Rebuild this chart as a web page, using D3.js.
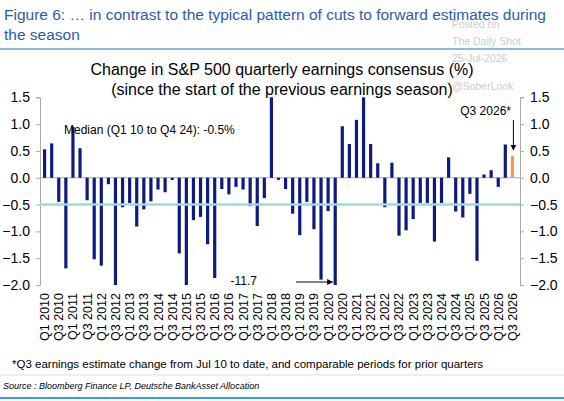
<!DOCTYPE html>
<html>
<head>
<meta charset="utf-8">
<script src="https://cdn.jsdelivr.net/npm/d3@7"></script>
<style>
  body { margin: 0; background: #fff; font-family: Arial, 'Liberation Sans', sans-serif; }
</style>
</head>
<body>
<svg id="chart" width="564" height="401"></svg>
<script>
var quarters = [];
for (var yr = 2010; yr <= 2026; yr++)
  for (var q = 1; q <= 4; q++)
    if (!(yr === 2026 && q === 4)) quarters.push("Q" + q + " " + yr);

// change in consensus (%), clipped at -2 / 1.5 on the chart
var values = [
  0.53, 0.64, -0.45, -1.69, 0.95, 0.55, -0.42, -1.52, -1.64, -0.12,
  -2.0, -0.55, -0.47, -0.91, -0.59, -0.44, -0.22, -0.27, -0.04, -1.41,
  -2.0, -0.79, -0.73, -1.24, -1.87, -0.21, -0.31, -0.17, -0.22, -0.53,
  -0.90, -0.38, 1.5, -0.04, -0.21, -0.67, -1.07, -0.45, -0.96, -1.90,
  -0.62, -2.0, 0.96, 0.63, 1.08, 1.5, 0.63, 0.27, -0.55, 0.28,
  -1.08, -0.98, -0.77, -0.47, -0.47, -1.19, -0.47, 0.38, -0.63, -0.74,
  -0.30, -1.55, 0.06, 0.14, -0.17, 0.62, 0.41
];
var yTicks = [1.5, 1.0, 0.5, 0.0, -0.5, -1.0, -1.5, -2.0];
var median = -0.5;

var svg = d3.select("#chart");

// header
svg.append("text").attr("x", 4).attr("y", 20).attr("fill", "#2a5ca8").attr("font-size", 15.5)
  .text("Figure 6: \u2026 in contrast to the typical pattern of cuts to forward estimates during");
svg.append("text").attr("x", 4).attr("y", 40).attr("fill", "#2a5ca8").attr("font-size", 15.5)
  .text("the season");
svg.append("line").attr("x1", 0).attr("x2", 564).attr("y1", 49).attr("y2", 49).attr("stroke", "#5aa8d8").attr("stroke-width", 1.5);

// watermark
[["Posted on", 28], ["The Daily Shot", 45], ["25-Jul-2026", 62], ["@SoberLook", 90]].forEach(function (w) {
  svg.append("text").attr("x", 452).attr("y", w[1]).attr("fill", "#cccccc").attr("font-size", 10.5).text(w[0]);
});

svg.append("text").attr("x", 282).attr("y", 75).attr("text-anchor", "middle").attr("font-size", 16).text("Change in S&P 500 quarterly earnings consensus (%)");
svg.append("text").attr("x", 282).attr("y", 95).attr("text-anchor", "middle").attr("font-size", 16).text("(since the start of the previous earnings season)");

var x = d3.scaleBand().domain(quarters).range([43, 514]).paddingInner(0.55);
var y = d3.scaleLinear().domain([-2, 1.5]).range([285, 97.3]);

// axes
var left = svg.append("g").attr("transform", "translate(40,0)")
  .call(d3.axisLeft(y).tickValues(yTicks).tickFormat(d3.format(".1f")).tickSize(4));
var right = svg.append("g").attr("transform", "translate(520,0)")
  .call(d3.axisRight(y).tickValues(yTicks).tickFormat(d3.format(".1f")).tickSize(4));
[left, right].forEach(function (g) {
  g.selectAll("path, line").attr("stroke", "#aaa");
  g.selectAll("text").attr("font-size", 14).attr("fill", "#000").attr("font-family", "Arial, 'Liberation Sans', sans-serif");
});
left.selectAll("text").attr("x", -10);
right.selectAll("text").attr("x", 10);

svg.append("line").attr("x1", 40).attr("x2", 520).attr("y1", y(0)).attr("y2", y(0)).attr("stroke", "#aaa");

svg.selectAll("rect.bar").data(values).join("rect").attr("class", "bar")
  .attr("x", function (d, i) { return x(quarters[i]); })
  .attr("width", x.bandwidth())
  .attr("y", function (d) { return y(Math.max(0, d)); })
  .attr("height", function (d) { return Math.abs(y(d) - y(0)); })
  .attr("fill", function (d, i) { return i === values.length - 1 ? "#f39a4e" : "#0d1a7e"; });

svg.append("line").attr("x1", 40).attr("x2", 520).attr("y1", y(median)).attr("y2", y(median))
  .attr("stroke", "#9fd9e0").attr("stroke-width", 2.5);

svg.append("text").attr("x", 64).attr("y", 134).attr("font-size", 12).text("Median (Q1 10 to Q4 24): -0.5%");

// annotations
svg.append("defs").append("marker").attr("id", "ah").attr("viewBox", "0 0 10 10").attr("refX", 9).attr("refY", 5)
  .attr("markerWidth", 6).attr("markerHeight", 6).attr("orient", "auto")
  .append("path").attr("d", "M0,0L10,5L0,10z").attr("fill", "#000");
var q20 = x("Q2 2020");
svg.append("text").attr("x", 257).attr("y", 285).attr("text-anchor", "end").attr("font-size", 12).text("-11.7");
svg.append("line").attr("x1", 296).attr("x2", q20 - 1).attr("y1", 282).attr("y2", 282)
  .attr("stroke", "#000").attr("marker-end", "url(#ah)");
var q26 = x("Q3 2026") + x.bandwidth() / 2;
svg.append("text").attr("x", 511).attr("y", 115).attr("text-anchor", "end").attr("font-size", 12).text("Q3 2026*");
svg.append("line").attr("x1", q26 + 1).attr("x2", q26 + 1).attr("y1", 120).attr("y2", 150)
  .attr("stroke", "#000").attr("marker-end", "url(#ah)");

// x labels every second quarter
svg.selectAll("text.xl").data(quarters.filter(function (d, i) { return i % 2 === 0; })).join("text")
  .attr("class", "xl").attr("font-size", 12.5).attr("text-anchor", "end")
  .attr("transform", function (d) { return "translate(" + (x(d) + x.bandwidth() / 2 + 4.5) + ",293) rotate(-90)"; })
  .text(function (d) { return d; });

svg.append("text").attr("x", 12).attr("y", 368).attr("font-size", 11.5).text("*Q3 earnings estimate change from Jul 10 to date, and comparable periods for prior quarters");
svg.append("line").attr("x1", 0).attr("x2", 564).attr("y1", 375).attr("y2", 375).attr("stroke", "#ddd");
svg.append("text").attr("x", 3).attr("y", 389).attr("font-size", 9).attr("font-style", "italic").text("Source : Bloomberg Finance LP, Deutsche BankAsset Allocation");
svg.append("line").attr("x1", 0).attr("x2", 564).attr("y1", 398).attr("y2", 398).attr("stroke", "#3aa0d0").attr("stroke-width", 2);
</script>
</body>
</html>
